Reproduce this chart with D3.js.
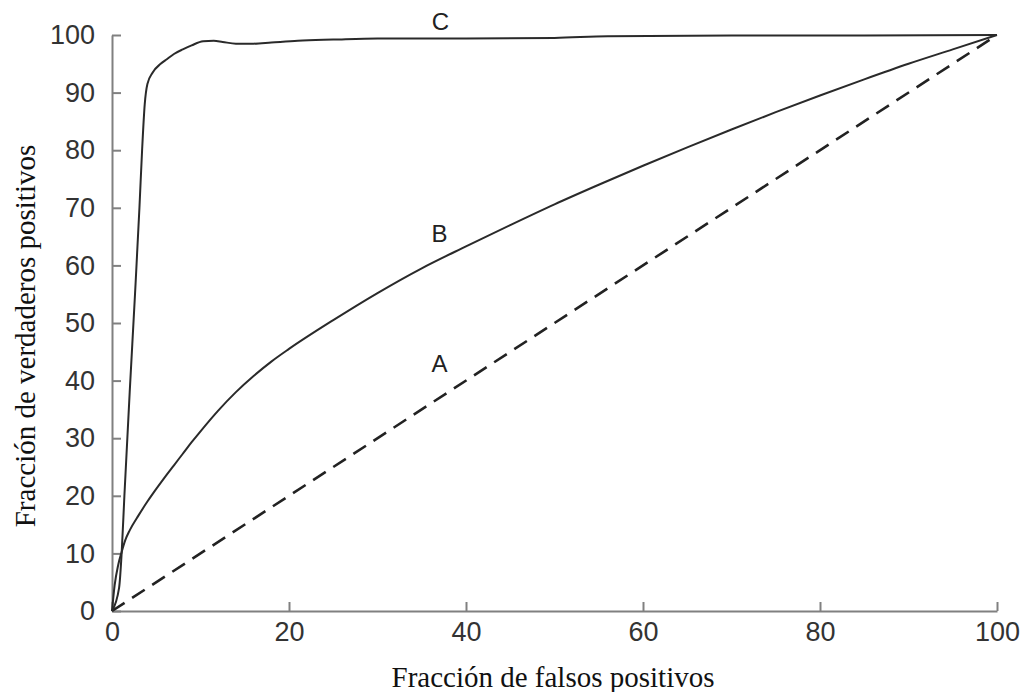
<!DOCTYPE html>
<html lang="es">
<head>
    <meta charset="UTF-8">
    <title>Curvas ROC</title>
    <script src="https://d3js.org/d3.v7.min.js"></script>
    <style>
        body, html { margin: 0; background: #fff; }
        .axis path, .axis line { stroke: #808080; stroke-width: 2px; }
        .axis text { font-family: 'Liberation Sans', Arial, sans-serif; font-size: 27px; fill: #333; }
        .title { font-family: 'Liberation Serif', 'Times New Roman', serif; font-size: 29px; fill: #111; }
        .curve-label { font-family: 'Liberation Sans', Arial, sans-serif; font-size: 24px; fill: #222; }
    </style>
</head>
<body>
<div id="chart"></div>
<script>
    // curva A: azar (diagonal)
    const aX = [0, 100]
    const aY = [0, 100]
    // curva B
    const bX = [0, 0.3, 0.7, 1.1, 1.5, 2, 3, 4, 5, 6, 7, 8, 9, 10, 12, 14, 16, 18, 20, 25, 30, 35, 40, 45, 50, 55, 60, 65, 70, 75, 80, 85, 90, 95, 100]
    const bY = [0, 4.5, 8, 10.3, 12.3, 14.0, 16.6, 19.0, 21.2, 23.3, 25.3, 27.3, 29.3, 31.2, 34.8, 38.0, 40.8, 43.3, 45.5, 50.5, 55.2, 59.5, 63.3, 67.0, 70.6, 74.0, 77.3, 80.5, 83.6, 86.6, 89.5, 92.3, 95.0, 97.5, 100]
    // curva C
    const cX = [0, 0.8, 1.1, 1.4, 2.0, 2.6, 3.1, 3.4, 3.7, 4.0, 4.6, 5.5, 6.2, 7, 8, 9, 10.3, 11.5, 12.5, 14, 16, 18, 21, 25, 30, 40, 50, 56, 70, 85, 100]
    const cY = [0, 4, 10.3, 20, 38, 55, 70, 80, 88, 91.5, 93.5, 95, 95.8, 96.7, 97.5, 98.2, 98.9, 99.0, 98.8, 98.5, 98.5, 98.7, 99.0, 99.2, 99.4, 99.4, 99.5, 99.8, 99.9, 99.9, 100]

    const xTicks = [0, 20, 40, 60, 80, 100]
    const yTicks = [0, 10, 20, 30, 40, 50, 60, 70, 80, 90, 100]

    // etiquetas de las curvas (posición en coordenadas de datos)
    const labels = [
        { text: 'A', x: 37, y: 41.5 },
        { text: 'B', x: 37, y: 64.1 },
        { text: 'C', x: 37.1, y: 100.9 }
    ]

    const width = 1026, height = 692
    const margin = { top: 35, right: 29, bottom: 81, left: 112 }

    const svg = d3.select('#chart').append('svg')
        .attr('width', width)
        .attr('height', height)

    const x = d3.scaleLinear().domain([0, 100]).range([margin.left, width - margin.right])
    const y = d3.scaleLinear().domain([0, 100]).range([height - margin.bottom, margin.top])

    svg.append('g')
        .attr('class', 'axis')
        .attr('transform', `translate(0,${y(0)})`)
        .call(d3.axisBottom(x).tickValues(xTicks).tickSizeInner(-9).tickSizeOuter(0).tickPadding(11))

    svg.append('g')
        .attr('class', 'axis')
        .attr('transform', `translate(${x(0)},0)`)
        .call(d3.axisLeft(y).tickValues(yTicks).tickSizeInner(-9).tickSizeOuter(0).tickPadding(17))

    const line = d3.line()
        .x(d => x(d[0]))
        .y(d => y(d[1]))
        .curve(d3.curveMonotoneX)

    svg.append('path')
        .datum(aX.map((v, i) => [v, aY[i]]))
        .attr('d', line)
        .attr('fill', 'none')
        .attr('stroke', '#222')
        .attr('stroke-width', 2.6)
        .attr('stroke-dasharray', '15,9')

    svg.append('path')
        .datum(bX.map((v, i) => [v, bY[i]]))
        .attr('d', line)
        .attr('fill', 'none')
        .attr('stroke', '#2a2a2a')
        .attr('stroke-width', 2)

    svg.append('path')
        .datum(cX.map((v, i) => [v, cY[i]]))
        .attr('d', line)
        .attr('fill', 'none')
        .attr('stroke', '#2a2a2a')
        .attr('stroke-width', 2)

    svg.selectAll('.curve-label')
        .data(labels)
        .enter()
        .append('text')
        .attr('class', 'curve-label')
        .attr('x', d => x(d.x))
        .attr('y', d => y(d.y))
        .attr('text-anchor', 'middle')
        .text(d => d.text)

    svg.append('text')
        .attr('class', 'title')
        .attr('x', 553)
        .attr('y', 687)
        .attr('text-anchor', 'middle')
        .text('Fracción de falsos positivos')

    svg.append('text')
        .attr('class', 'title')
        .attr('transform', 'translate(35,336) rotate(-90)')
        .attr('text-anchor', 'middle')
        .text('Fracción de verdaderos positivos')
</script>
</body>
</html>
